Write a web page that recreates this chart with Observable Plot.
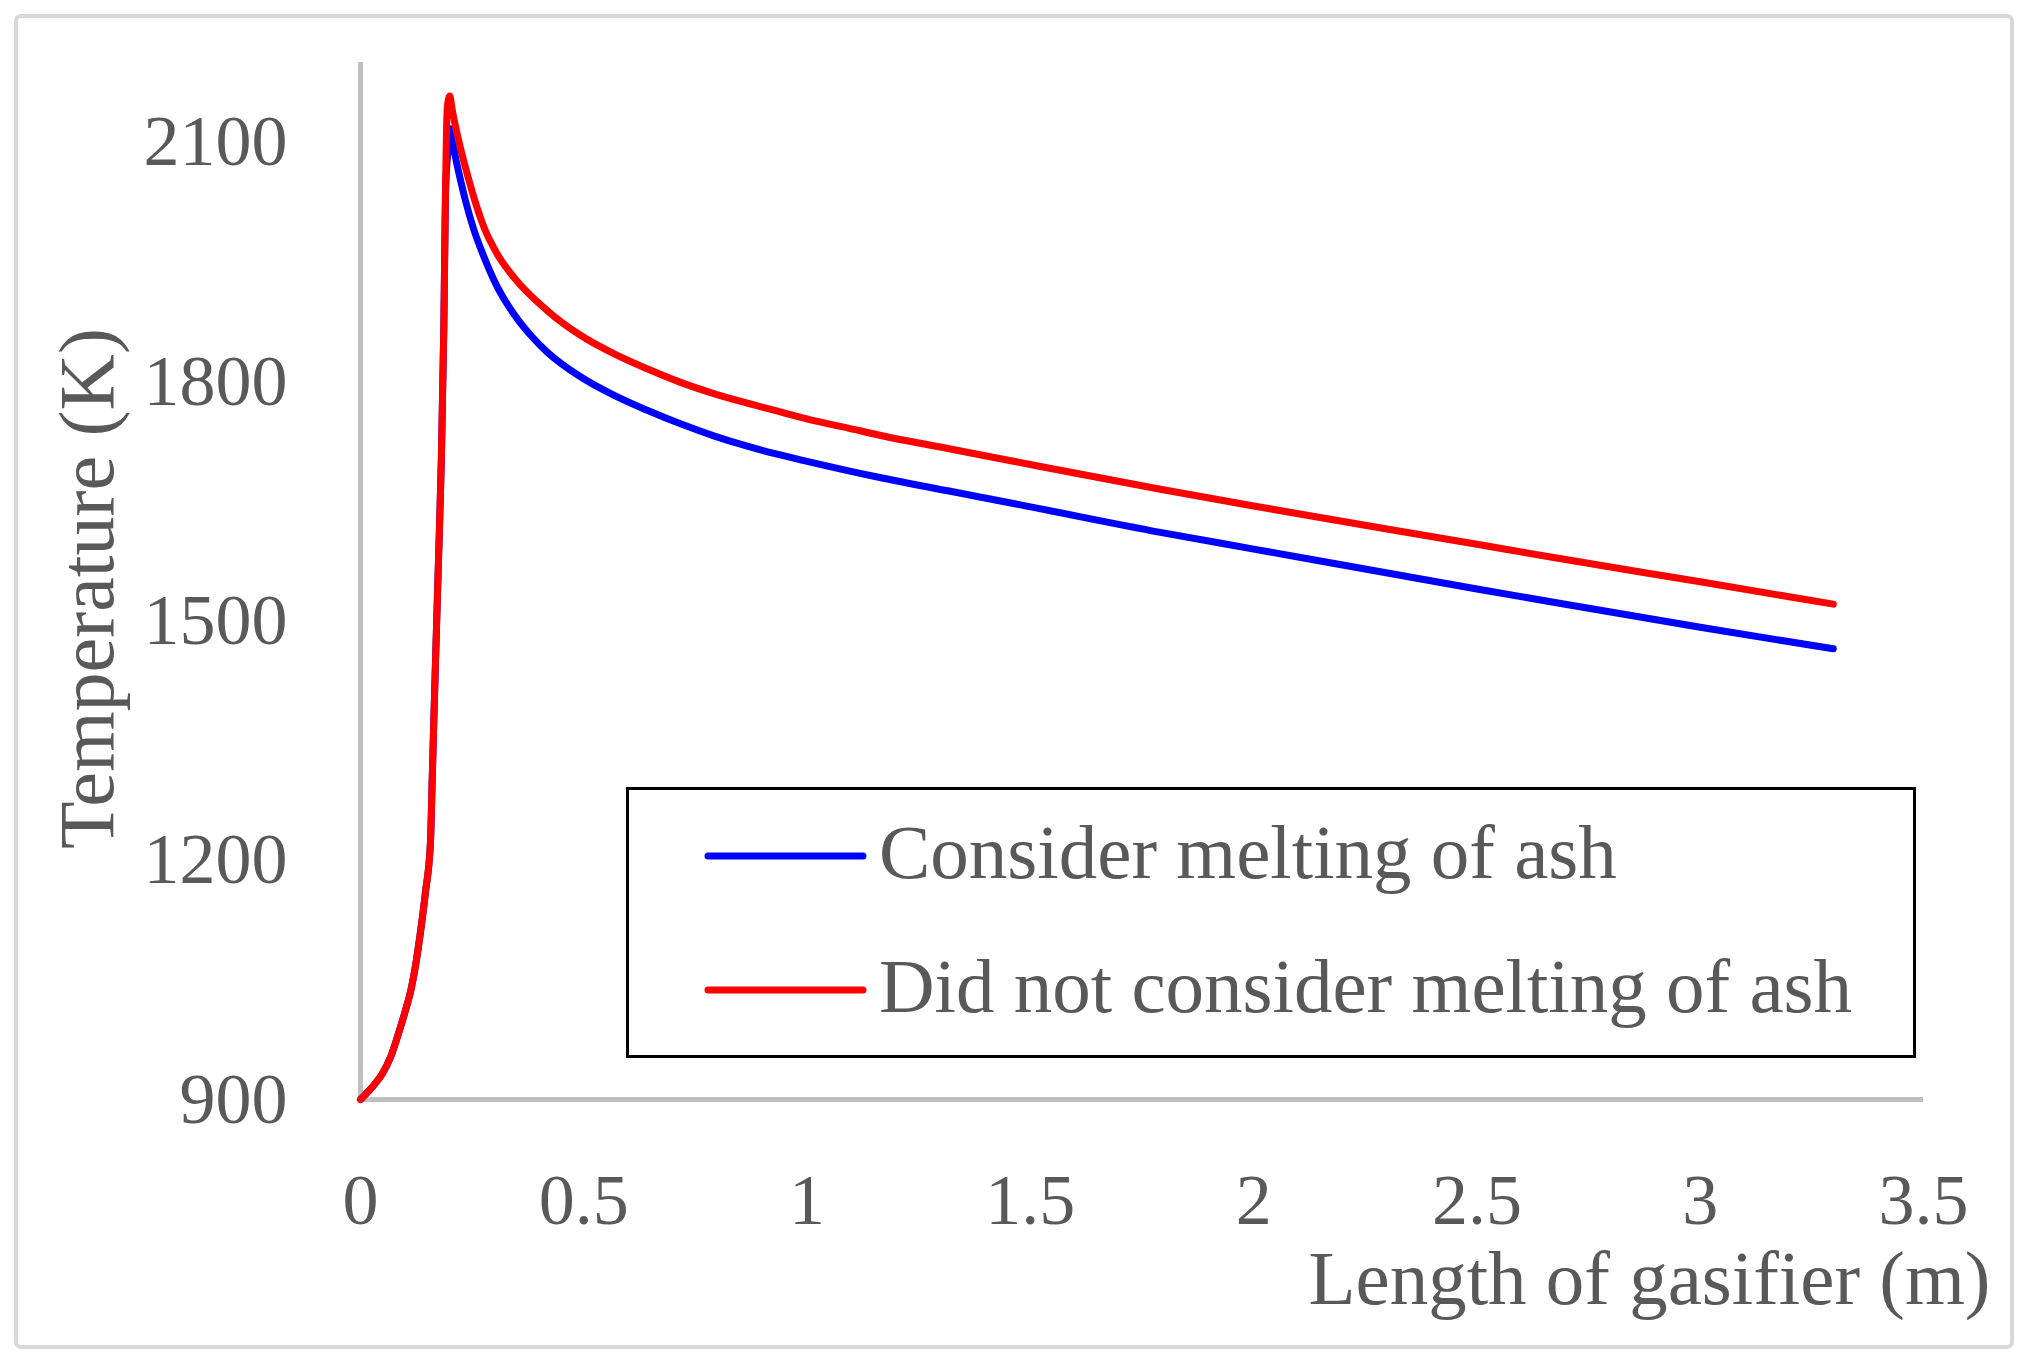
<!DOCTYPE html>
<html>
<head>
<meta charset="utf-8">
<script src="https://cdn.jsdelivr.net/npm/d3@7"></script>
<script src="https://cdn.jsdelivr.net/npm/@observablehq/plot@0.6"></script>
<style>
  html, body { margin: 0; padding: 0; background: #ffffff; }
  #wrap { position: relative; width: 2028px; height: 1364px; overflow: hidden; background: #fff; }
  #wrap svg { position: absolute; left: 0; top: 0; }
  #border { position: absolute; left: 14px; top: 14px; width: 2000px; height: 1335px; box-sizing: border-box;
            border: 4px solid #d9d9d9; border-radius: 7px; pointer-events: none; }
  #legend { position: absolute; left: 626px; top: 787px; width: 1290px; height: 271px; box-sizing: border-box;
            border: 3px solid #000; background: #fff; }
  #legend svg { position: absolute; left: 0; top: 0; }
</style>
</head>
<body>
<div id="wrap"><div id="border"></div></div>
<script>
// ---- data ----
const xTicks = [0, 0.5, 1, 1.5, 2, 2.5, 3, 3.5];
const yTicks = [900, 1200, 1500, 1800, 2100];
const xTitle = "Length of gasifier (m)";
const yTitle = "Temperature (K)";
const seriesNames = ["Consider melting of ash", "Did not consider melting of ash"];
const seriesColors = ["#0000ff", "#ff0000"];

// Consider melting of ash (blue)
const xBlue = [0, 0.03, 0.0485, 0.0672, 0.0858, 0.1008, 0.112, 0.1232, 0.1343, 0.1455, 0.1567, 0.1605, 0.1642, 0.168, 0.1754, 0.181, 0.1866, 0.1903, 0.196, 0.2015, 0.207, 0.215, 0.225, 0.235, 0.254, 0.2725, 0.306, 0.343, 0.381, 0.418, 0.4926, 0.567, 0.642, 0.7165, 0.791, 0.866, 0.94, 1.0, 1.16, 1.344, 1.5, 1.791, 2.0, 2.5, 2.665, 3.0, 3.298];
const tBlue = [900, 918, 932, 953, 984, 1012, 1035, 1068, 1110, 1160, 1223, 1300, 1375, 1450, 1590, 1701, 1868, 2036, 2090, 2117, 2098, 2075, 2050, 2027, 1990, 1962, 1919, 1885, 1858, 1837, 1806, 1783, 1764, 1747, 1732, 1719, 1708, 1700, 1680, 1660, 1643, 1611, 1590, 1540, 1524, 1492, 1465];

// Did not consider melting of ash (red)
const xRed = [0, 0.03, 0.0485, 0.0672, 0.0858, 0.1008, 0.112, 0.1232, 0.1343, 0.1455, 0.1567, 0.1605, 0.1642, 0.168, 0.1754, 0.181, 0.1866, 0.1903, 0.194, 0.197, 0.2, 0.205, 0.212, 0.222, 0.2425, 0.261, 0.276, 0.306, 0.343, 0.418, 0.4926, 0.567, 0.642, 0.7165, 0.791, 0.866, 0.94, 1.015, 1.09, 1.16, 1.344, 1.5, 1.791, 2.0, 2.5, 2.665, 3.0, 3.298];
const tRed = [900, 918, 932, 953, 984, 1012, 1035, 1068, 1110, 1160, 1223, 1300, 1375, 1450, 1590, 1701, 1868, 2036, 2140, 2154, 2158, 2142, 2122, 2097, 2053, 2018, 1994, 1960, 1931, 1889, 1858, 1835, 1816, 1799, 1785, 1773, 1762, 1751, 1742, 1733, 1713, 1696, 1665, 1644, 1596, 1580, 1549, 1521];

// ---- build table ----
const rows = [];
xBlue.forEach((x, i) => rows.push({series: seriesNames[0], x, t: tBlue[i]}));
xRed.forEach((x, i) => rows.push({series: seriesNames[1], x, t: tRed[i]}));

const FONT = "'Liberation Serif', 'Times New Roman', serif";
const TXT = "#595959";

const chart = Plot.plot({
  width: 2028,
  height: 1364,
  marginLeft: 360,
  marginRight: 105,
  marginTop: 62,
  marginBottom: 265,
  style: {fontFamily: FONT, background: "transparent", color: TXT},
  x: {domain: [0, 3.5]},
  y: {domain: [900, 2200]},
  color: {domain: seriesNames, range: seriesColors},
  marks: [
    Plot.axisX({ticks: xTicks, tickFormat: d => String(d), tickSize: 0, tickPadding: 73, fontSize: 72, color: TXT, label: null}),
    Plot.axisY({ticks: yTicks, tickFormat: d => String(d), tickSize: 0, tickPadding: 73, fontSize: 72, color: TXT, label: null}),
    Plot.ruleX([0], {stroke: "#bfbfbf", strokeWidth: 5}),
    Plot.ruleY([900], {stroke: "#bfbfbf", strokeWidth: 5}),
    Plot.line(rows, {x: "x", y: "t", z: "series", stroke: "series", strokeWidth: 7,
                     strokeLinecap: "round", strokeLinejoin: "round", curve: "monotone-x"}),
    Plot.text([yTitle], {frameAnchor: "left", textAnchor: "middle", rotate: -90, dx: -272, dy: 7.5, fontSize: 78, fill: TXT}),
    Plot.text([xTitle], {frameAnchor: "bottom-right", textAnchor: "end", lineAnchor: "bottom", dx: 67, dy: 204, fontSize: 77, fill: TXT})
  ]
});

const wrap = document.getElementById("wrap");
wrap.insertBefore(chart, wrap.firstChild);

// ---- legend (overlay box) ----
const legend = document.createElement("div");
legend.id = "legend";
const ns = "http://www.w3.org/2000/svg";
const lsvg = document.createElementNS(ns, "svg");
lsvg.setAttribute("width", 1284);
lsvg.setAttribute("height", 265);
seriesNames.forEach((name, i) => {
  const cy = 66 + i * 134;
  const line = document.createElementNS(ns, "line");
  line.setAttribute("x1", 79); line.setAttribute("x2", 234);
  line.setAttribute("y1", cy); line.setAttribute("y2", cy);
  line.setAttribute("stroke", seriesColors[i]);
  line.setAttribute("stroke-width", 7);
  line.setAttribute("stroke-linecap", "round");
  lsvg.appendChild(line);
  const t = document.createElementNS(ns, "text");
  t.setAttribute("x", 250);
  t.setAttribute("y", cy + 22);
  t.setAttribute("font-family", FONT);
  t.setAttribute("font-size", 77);
  t.setAttribute("fill", TXT);
  t.textContent = name;
  lsvg.appendChild(t);
});
legend.appendChild(lsvg);
wrap.appendChild(legend);
</script>
</body>
</html>
